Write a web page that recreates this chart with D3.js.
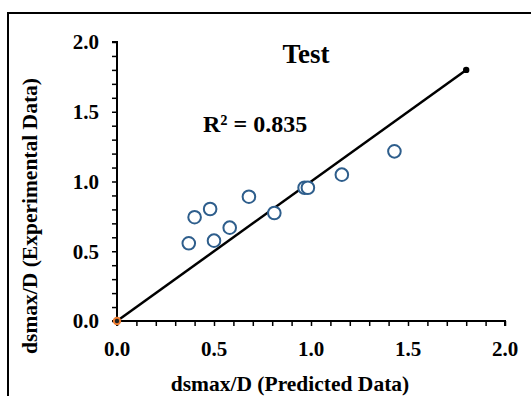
<!DOCTYPE html>
<html>
<head>
<meta charset="utf-8">
<script src="https://cdn.jsdelivr.net/npm/d3@7"></script>
<style>
  html, body { margin: 0; padding: 0; background: #fff; }
  svg { display: block; }
  text { font-family: "Liberation Serif", "Times New Roman", serif; font-weight: bold; fill: #000; }
</style>
</head>
<body>
<svg id="chart" width="531" height="396"></svg>
<script>
// Test set: predicted vs experimental dsmax/D
const predicted    = [0.370, 0.400, 0.480, 0.500, 0.581, 0.680, 0.811, 0.967, 0.984, 1.159, 1.430];
const experimental = [0.557, 0.744, 0.803, 0.576, 0.669, 0.891, 0.774, 0.955, 0.955, 1.049, 1.216];

// 1:1 reference line
const lineX = [0, 1.8];
const lineY = [0, 1.8];

const majorTicks = [0, 0.5, 1.0, 1.5, 2.0];
const minorTicks = d3.range(0, 2.0001, 0.1);

const titleText = "Test";
const r2Text = "R² = 0.835";
const xTitle = "dsmax/D (Predicted Data)";
const yTitle = "dsmax/D (Experimental Data)";

const svg = d3.select("#chart");

const x = d3.scaleLinear().domain([0, 2]).range([117, 505]);
const y = d3.scaleLinear().domain([0, 2]).range([321, 42]);

// outer frame
svg.append("rect")
  .attr("x", 8).attr("y", 13)
  .attr("width", 700).attr("height", 700)
  .attr("fill", "none").attr("stroke", "#000").attr("stroke-width", 2);

// axes with minor ticks
const xAxis = d3.axisBottom(x).tickValues(minorTicks).tickSize(5).tickFormat("");
const yAxis = d3.axisLeft(y).tickValues(minorTicks).tickSize(5).tickFormat("");

const gx = svg.append("g").attr("transform", `translate(0,${y(0)})`).call(xAxis);
const gy = svg.append("g").attr("transform", `translate(${x(0)},0)`).call(yAxis);
[gx, gy].forEach(g => {
  g.select(".domain").attr("stroke", "#000").attr("stroke-width", 2);
  g.selectAll(".tick line").attr("stroke", "#000").attr("stroke-width", 1.5);
});
gx.select(".domain").attr("d", `M${x(0)},5V0H${x(2)}V5`);
gy.select(".domain").attr("d", `M-5,${y(2)}H0V${y(0)}H-5`);

// tick labels
svg.append("g").selectAll("text")
  .data(majorTicks).join("text")
  .attr("x", d => x(d)).attr("y", y(0) + 35)
  .attr("text-anchor", "middle")
  .attr("font-size", 21)
  .text(d => d.toFixed(1));

svg.append("g").selectAll("text")
  .data(majorTicks).join("text")
  .attr("x", 99).attr("y", d => y(d))
  .attr("dy", "0.35em")
  .attr("text-anchor", "end")
  .attr("font-size", 21)
  .text(d => d.toFixed(1));

// reference line
const pts = lineX.map((v, i) => [v, lineY[i]]);
svg.append("path")
  .datum(pts)
  .attr("d", d3.line().x(d => x(d[0])).y(d => y(d[1])))
  .attr("fill", "none").attr("stroke", "#000").attr("stroke-width", 2.5);

// line end markers
svg.append("circle")
  .attr("cx", x(lineX[1])).attr("cy", y(lineY[1])).attr("r", 3.2)
  .attr("fill", "#000");
svg.append("circle")
  .attr("cx", x(lineX[0])).attr("cy", y(lineY[0])).attr("r", 3.2)
  .attr("fill", "#222").attr("stroke", "#ED7D31").attr("stroke-width", 2);

// data points
svg.append("g").selectAll("circle")
  .data(predicted.map((p, i) => [p, experimental[i]]))
  .join("circle")
  .attr("cx", d => x(d[0])).attr("cy", d => y(d[1]))
  .attr("r", 6.3)
  .attr("fill", "#fff")
  .attr("stroke", "#2E5E8C")
  .attr("stroke-width", 2);

// title and R²
svg.append("text")
  .attr("x", 306).attr("y", 54).attr("dy", "0.35em")
  .attr("text-anchor", "middle").attr("font-size", 27)
  .text(titleText);

svg.append("text")
  .attr("x", 203).attr("y", 124).attr("dy", "0.35em")
  .attr("text-anchor", "start").attr("font-size", 24)
  .text(r2Text);

// axis titles
svg.append("text")
  .attr("x", 290).attr("y", 391)
  .attr("text-anchor", "middle").attr("font-size", 21.5)
  .text(xTitle);

svg.append("text")
  .attr("transform", `translate(37,${216}) rotate(-90)`)
  .attr("text-anchor", "middle").attr("font-size", 21.5)
  .text(yTitle);
</script>
</body>
</html>
